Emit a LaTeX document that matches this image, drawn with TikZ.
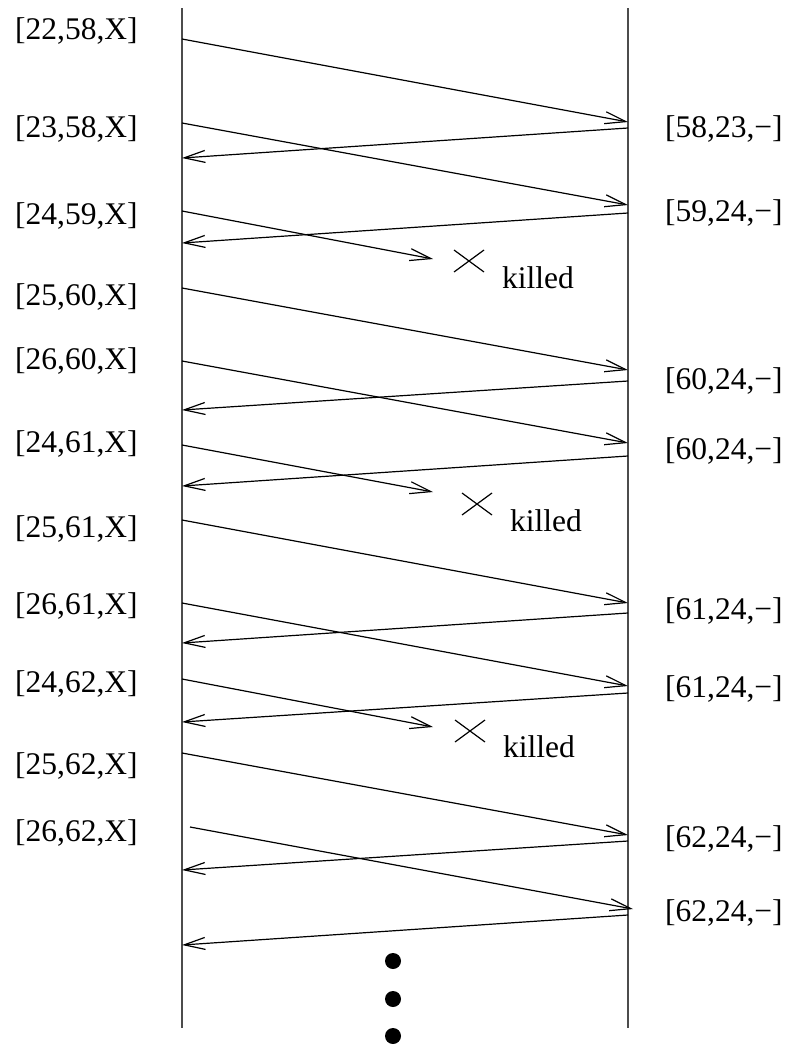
\documentclass[tikz,border=0pt]{standalone}
\usepackage{fontspec}
\setmainfont{Liberation Serif}
\usetikzlibrary{arrows.meta}
\tikzset{
  lifeline/.style={draw=black!70, line width=1.8pt},
  msg/.style={draw=black, line width=1.2pt, -{Straight Barb[length=21pt,width=12pt,line width=1.2pt]}},
  lbl/.style={anchor=base west, inner sep=0pt, font=\fontsize{31.5}{37}\selectfont},
  kill/.style={draw=black, line width=1.2pt},
  dot/.style={circle, fill=black, inner sep=0pt, minimum size=16pt},
}
\begin{document}
\begin{tikzpicture}[x=1pt, y=-1pt]
\useasboundingbox (0,0) rectangle (789,1044);

% the two lifelines
\coordinate (Ltop) at (182,8);
\coordinate (Lbot) at (182,1028);
\coordinate (Rtop) at (628,8);
\coordinate (Rbot) at (628,1028);
\draw[lifeline] (Ltop) -- (Lbot);
\draw[lifeline] (Rtop) -- (Rbot);

% sender-side labels
\node[lbl] (s1)  at (15,39)  {[22,58,X]};
\node[lbl] (s2)  at (15,137) {[23,58,X]};
\node[lbl] (s3)  at (15,224) {[24,59,X]};
\node[lbl] (s4)  at (15,305) {[25,60,X]};
\node[lbl] (s5)  at (15,369) {[26,60,X]};
\node[lbl] (s6)  at (15,452) {[24,61,X]};
\node[lbl] (s7)  at (15,537) {[25,61,X]};
\node[lbl] (s8)  at (15,614) {[26,61,X]};
\node[lbl] (s9)  at (15,692) {[24,62,X]};
\node[lbl] (s10) at (15,774) {[25,62,X]};
\node[lbl] (s11) at (15,841) {[26,62,X]};

% receiver-side labels
\node[lbl] (r1) at (665,137) {[58,23,−]};
\node[lbl] (r2) at (665,221) {[59,24,−]};
\node[lbl] (r3) at (665,389) {[60,24,−]};
\node[lbl] (r4) at (665,459) {[60,24,−]};
\node[lbl] (r5) at (665,619) {[61,24,−]};
\node[lbl] (r6) at (665,697) {[61,24,−]};
\node[lbl] (r7) at (665,847) {[62,24,−]};
\node[lbl] (r8) at (665,921) {[62,24,−]};

% outgoing messages: start points on the left lifeline
\coordinate (a1)  at (182,39);
\coordinate (a2)  at (182,123);
\coordinate (a3)  at (182,211);
\coordinate (a4)  at (182,288);
\coordinate (a5)  at (182,361);
\coordinate (a6)  at (182,445);
\coordinate (a7)  at (182,520);
\coordinate (a8)  at (182,603);
\coordinate (a9)  at (182,679);
\coordinate (a10) at (182,753);
\coordinate (a11) at (190,827);

% outgoing messages: arrival points
\coordinate (b1)  at (628,122);
\coordinate (b2)  at (628,205);
\coordinate (b3)  at (433,259);
\coordinate (b4)  at (628,370);
\coordinate (b5)  at (628,443);
\coordinate (b6)  at (433,492);
\coordinate (b7)  at (628,603);
\coordinate (b8)  at (628,686);
\coordinate (b9)  at (433,727);
\coordinate (b10) at (628,835);
\coordinate (b11) at (633,909);

\foreach \i in {1,...,11} \draw[msg] (a\i) -- (b\i);

% acknowledgements: right lifeline back to the left one
\coordinate (c1) at (628,128);  \coordinate (d1) at (182,158);
\coordinate (c2) at (628,213);  \coordinate (d2) at (182,243);
\coordinate (c3) at (628,381);  \coordinate (d3) at (182,410);
\coordinate (c4) at (628,456);  \coordinate (d4) at (182,486);
\coordinate (c5) at (628,613);  \coordinate (d5) at (182,643);
\coordinate (c6) at (628,693);  \coordinate (d6) at (182,722);
\coordinate (c7) at (628,841);  \coordinate (d7) at (182,870);
\coordinate (c8) at (628,915);  \coordinate (d8) at (182,945);

\foreach \i in {1,...,8} \draw[msg] (c\i) -- (d\i);

% lost packets
\foreach \n/\cx/\cy/\ky in {1/469/261/288, 2/477/504/531, 3/470/731/757} {
  \coordinate (x\n) at (\cx,\cy);
  \draw[kill] ([shift={(-15,-11)}]x\n) -- ([shift={(15,11)}]x\n)
              ([shift={(-15,11)}]x\n) -- ([shift={(15,-11)}]x\n);
  \node[lbl] (k\n) at (\cx+33,\ky) {killed};
}

% continuation dots
\node[dot] (e1) at (393,961) {};
\node[dot] (e2) at (393,999) {};
\node[dot] (e3) at (393,1036) {};
\end{tikzpicture}
\end{document}
